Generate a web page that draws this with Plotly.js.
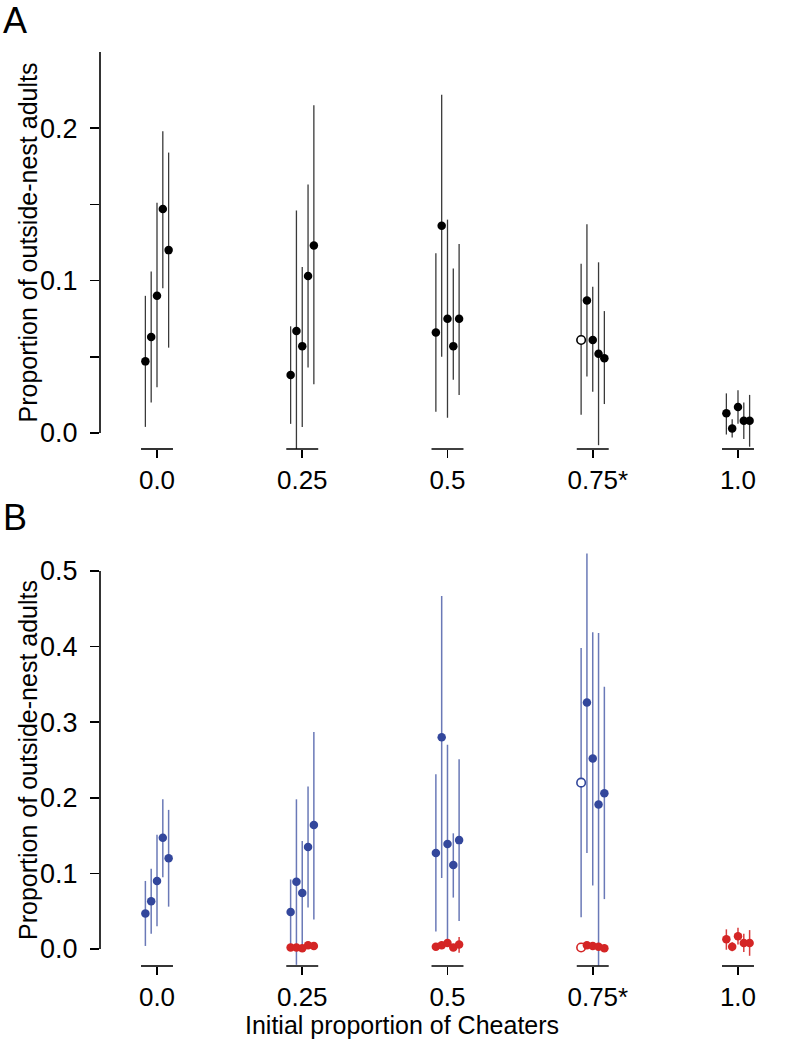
<!DOCTYPE html>
<html>
<head>
<meta charset="utf-8">
<script src="https://cdn.plot.ly/plotly-3.0.1.min.js"></script>
<style>html,body{margin:0;padding:0;background:#fff;}#chart{width:796px;height:1056px;}</style>
</head>
<body>
<div id="chart"></div>
<script>
// ---------- data ----------
const groups = [0, 0.25, 0.5, 0.75, 1.0];
const tickLabels = ['0.0', '0.25', '0.5', '<span style="color:rgba(0,0,0,0)">*</span>0.75*', '1.0'];
const yTickValsA = [0, 0.05, 0.1, 0.15, 0.2];
const yTickTextA = ['0.0', '', '0.1', '', '0.2'];
const yTickValsB = [0, 0.1, 0.2, 0.3, 0.4, 0.5];
const yTickTextB = ['0.0', '0.1', '0.2', '0.3', '0.4', '0.5'];

// Panel A: all outside-nest adults (mean, lower, upper) per group, 5 replicates
const allMean_0   = [0.047, 0.063, 0.090, 0.147, 0.120];
const allLow_0    = [0.004, 0.020, 0.030, 0.095, 0.056];
const allHigh_0   = [0.090, 0.106, 0.151, 0.198, 0.184];
const allMean_25  = [0.038, 0.067, 0.057, 0.103, 0.123];
const allLow_25   = [0.006, -0.011, 0.004, 0.043, 0.032];
const allHigh_25  = [0.070, 0.146, 0.109, 0.163, 0.215];
const allMean_50  = [0.066, 0.136, 0.075, 0.057, 0.075];
const allLow_50   = [0.014, 0.050, 0.010, 0.035, 0.025];
const allHigh_50  = [0.118, 0.222, 0.140, 0.108, 0.124];
const allMean_75  = [0.061, 0.087, 0.061, 0.052, 0.049];
const allLow_75   = [0.012, 0.037, 0.027, -0.008, 0.019];
const allHigh_75  = [0.111, 0.137, 0.096, 0.112, 0.080];
const allMean_100 = [0.013, 0.003, 0.017, 0.008, 0.008];
const allLow_100  = [-0.001, -0.003, 0.006, -0.004, -0.009];
const allHigh_100 = [0.026, 0.009, 0.028, 0.020, 0.025];

// Panel B: cooperators (blue)
const coopMean_0  = [0.047, 0.063, 0.090, 0.147, 0.120];
const coopLow_0   = [0.004, 0.020, 0.030, 0.095, 0.056];
const coopHigh_0  = [0.090, 0.106, 0.151, 0.198, 0.184];
const coopMean_25 = [0.049, 0.089, 0.074, 0.135, 0.164];
const coopLow_25  = [0.001, -0.021, 0.001, 0.055, 0.039];
const coopHigh_25 = [0.092, 0.198, 0.143, 0.215, 0.287];
const coopMean_50 = [0.127, 0.280, 0.139, 0.111, 0.144];
const coopLow_50  = [0.023, 0.094, 0.010, 0.068, 0.037];
const coopHigh_50 = [0.231, 0.467, 0.270, 0.153, 0.251];
const coopMean_75 = [0.220, 0.326, 0.252, 0.191, 0.206];
const coopLow_75  = [0.042, 0.127, 0.084, -0.022, 0.066];
const coopHigh_75 = [0.398, 0.523, 0.419, 0.418, 0.347];

// Panel B: cheaters (red)
const cheatMean_25  = [0.002, 0.002, 0.001, 0.005, 0.004];
const cheatLow_25   = [0.000, 0.000, -0.001, 0.002, 0.001];
const cheatHigh_25  = [0.004, 0.004, 0.003, 0.008, 0.007];
const cheatMean_50  = [0.003, 0.005, 0.008, 0.002, 0.006];
const cheatLow_50   = [0.000, 0.001, 0.003, 0.000, -0.005];
const cheatHigh_50  = [0.007, 0.009, 0.013, 0.005, 0.016];
const cheatMean_75  = [0.002, 0.005, 0.004, 0.003, 0.001];
const cheatLow_75   = [0.000, 0.002, 0.001, 0.000, -0.001];
const cheatHigh_75  = [0.005, 0.008, 0.007, 0.006, 0.004];
const cheatMean_100 = [0.013, 0.003, 0.017, 0.008, 0.008];
const cheatLow_100  = [-0.001, -0.003, 0.006, -0.004, -0.009];
const cheatHigh_100 = [0.026, 0.009, 0.028, 0.020, 0.025];

// replicate drawn hollow (first replicate of the 0.75 treatment)
const hollowGroup = 0.75;
const hollowReplicate = 0;

// ---------- drawing ----------
const jitter = 0.01;
const bracketHalf = 0.0275;
const FONT = 'Liberation Sans, Arial, Helvetica, sans-serif';

function build(list) {
  const x = [], y = [], plus = [], minus = [], hollow = [];
  list.forEach(([g, m, lo, hi]) => {
    m.forEach((v, i) => {
      x.push(g + (i - (m.length - 1) / 2) * jitter);
      y.push(v);
      plus.push(hi[i] - v);
      minus.push(v - lo[i]);
      hollow.push(g === hollowGroup && i === hollowReplicate);
    });
  });
  return {x, y, plus, minus, hollow};
}

function trace(d, col, barCol, barW, xa, ya) {
  return {
    type: 'scatter', mode: 'markers', x: d.x, y: d.y, xaxis: xa, yaxis: ya,
    cliponaxis: false,
    marker: {
      size: 8.5,
      color: d.hollow.map(h => h ? '#ffffff' : col),
      line: {color: col, width: d.hollow.map(h => h ? 1.6 : 0)}
    },
    error_y: {type: 'data', symmetric: false, array: d.plus, arrayminus: d.minus,
              color: barCol, thickness: barW, width: 0},
    showlegend: false, hoverinfo: 'skip'
  };
}

const dA = build([
  [groups[0], allMean_0, allLow_0, allHigh_0],
  [groups[1], allMean_25, allLow_25, allHigh_25],
  [groups[2], allMean_50, allLow_50, allHigh_50],
  [groups[3], allMean_75, allLow_75, allHigh_75],
  [groups[4], allMean_100, allLow_100, allHigh_100]
]);
const dCoop = build([
  [groups[0], coopMean_0, coopLow_0, coopHigh_0],
  [groups[1], coopMean_25, coopLow_25, coopHigh_25],
  [groups[2], coopMean_50, coopLow_50, coopHigh_50],
  [groups[3], coopMean_75, coopLow_75, coopHigh_75]
]);
const dCheat = build([
  [groups[1], cheatMean_25, cheatLow_25, cheatHigh_25],
  [groups[2], cheatMean_50, cheatLow_50, cheatHigh_50],
  [groups[3], cheatMean_75, cheatLow_75, cheatHigh_75],
  [groups[4], cheatMean_100, cheatLow_100, cheatHigh_100]
]);

const data = [
  trace(dA, '#000000', '#3a3a3a', 1.3, 'x', 'y'),
  trace(dCoop, '#33479c', 'rgba(80,97,170,0.85)', 1.5, 'x2', 'y2'),
  trace(dCheat, '#d42525', 'rgba(212,40,40,0.9)', 1.5, 'x2', 'y2')
];

const xRange = [-0.0981, 1.0551];
function xAxis(anchor) {
  return {
    anchor: anchor, domain: [0, 1], range: xRange,
    showline: false, showgrid: false, zeroline: false,
    tickmode: 'array', tickvals: groups, ticktext: tickLabels,
    ticks: 'outside', ticklen: 8, tickwidth: 1.6, tickcolor: '#000',
    tickfont: {family: FONT, size: 26, color: '#000'}
  };
}
function yAxis(anchor, domain, range, vals, text) {
  return {
    anchor: anchor, domain: domain, range: range,
    showline: false, showgrid: false, zeroline: false,
    tickmode: 'array', tickvals: vals, ticktext: text,
    ticks: 'outside', ticklen: 9, tickwidth: 1.6, tickcolor: '#000',
    ticklabelstandoff: 7,
    tickfont: {family: FONT, size: 27, color: '#000'}
  };
}

const shapes = [];
shapes.push({type: 'line', xref: 'paper', yref: 'y', x0: 0, x1: 0, y0: 0, y1: 0.25, line: {color: '#000', width: 1.6}});
shapes.push({type: 'line', xref: 'paper', yref: 'y2', x0: 0, x1: 0, y0: 0, y1: 0.5, line: {color: '#000', width: 1.6}});
groups.forEach(g => {
  shapes.push({type: 'line', xref: 'x', yref: 'y domain', x0: g - bracketHalf, x1: g + bracketHalf, y0: 0, y1: 0, line: {color: '#000', width: 1.6}});
  shapes.push({type: 'line', xref: 'x2', yref: 'y2 domain', x0: g - bracketHalf, x1: g + bracketHalf, y0: 0, y1: 0, line: {color: '#000', width: 1.6}});
});

const annotations = [
  {text: 'A', xref: 'paper', yref: 'paper', x: -0.148, y: 1.035, xanchor: 'left', yanchor: 'middle', showarrow: false, font: {family: FONT, size: 36, color: '#000'}},
  {text: 'B', xref: 'paper', yref: 'paper', x: -0.148, y: 0.4902, xanchor: 'left', yanchor: 'middle', showarrow: false, font: {family: FONT, size: 36, color: '#000'}},
  {text: 'Proportion of outside-nest adults', xref: 'paper', yref: 'y', x: -0.1075, y: 0.125, xanchor: 'center', yanchor: 'middle', textangle: -90, showarrow: false, font: {family: FONT, size: 25, color: '#000'}},
  {text: 'Proportion of outside-nest adults', xref: 'paper', yref: 'y2', x: -0.1075, y: 0.25, xanchor: 'center', yanchor: 'middle', textangle: -90, showarrow: false, font: {family: FONT, size: 25, color: '#000'}},
  {text: 'Initial proportion of Cheaters', xref: 'paper', yref: 'paper', x: 0.4507, y: -0.0646, xanchor: 'center', yanchor: 'middle', showarrow: false, font: {family: FONT, size: 25, color: '#000'}}
];

const layout = {
  width: 796, height: 1056,
  margin: {l: 100, r: 26, t: 52, b: 90},
  paper_bgcolor: '#fff', plot_bgcolor: '#fff',
  showlegend: false,
  xaxis: xAxis('y'),
  xaxis2: xAxis('y2'),
  yaxis: yAxis('x', [0.56565, 1], [-0.0105, 0.25], yTickValsA, yTickTextA),
  yaxis2: yAxis('x2', [0, 0.457], [-0.0225, 0.53], yTickValsB, yTickTextB),
  shapes: shapes,
  annotations: annotations,
  font: {family: FONT}
};

Plotly.newPlot('chart', data, layout, {staticPlot: true, displayModeBar: false});
</script>
</body>
</html>
